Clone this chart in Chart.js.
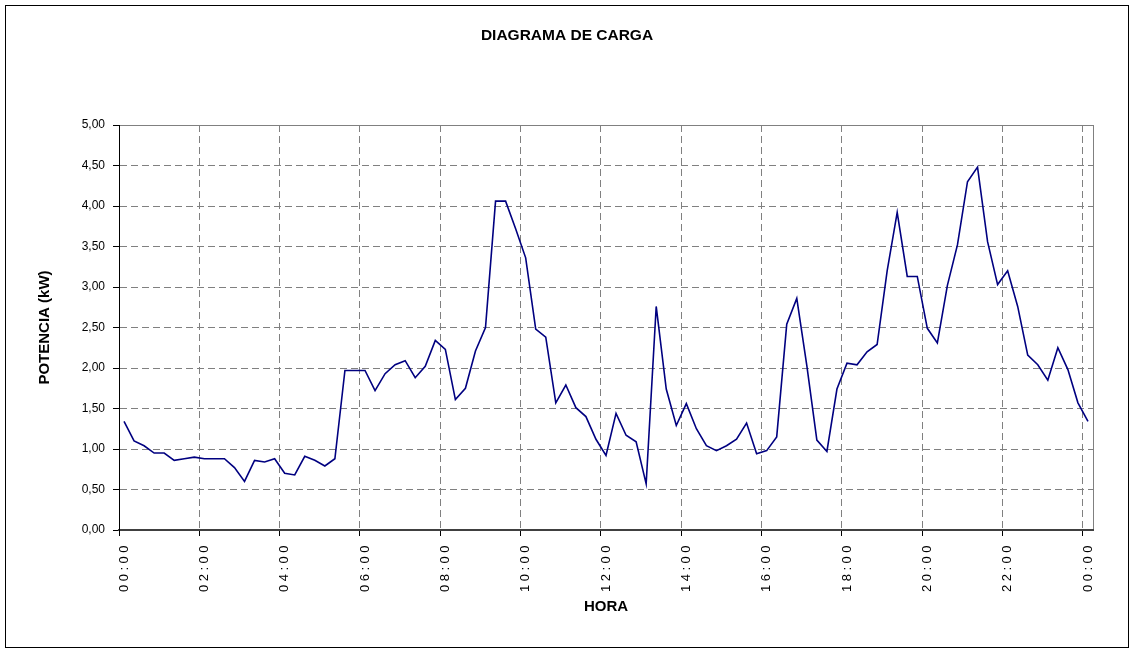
<!DOCTYPE html>
<html><head><meta charset="utf-8">
<script src="https://cdn.jsdelivr.net/npm/chart.js@4.4.0/dist/chart.umd.min.js"></script>
<style>
html,body{margin:0;padding:0;background:#fff;overflow:hidden;}
#wrap{position:relative;width:1134px;height:652px;}
#frame{position:absolute;left:5px;top:5px;width:1124px;height:643px;border:1px solid #000;box-sizing:border-box;pointer-events:none;}
canvas{display:block}
</style></head><body>
<div id="wrap"><canvas id="c" width="1134" height="652"></canvas><div id="frame"></div></div>
<script>
const tickLabels = ["00:00","02:00","04:00","06:00","08:00","10:00","12:00","14:00","16:00","18:00","20:00","22:00","00:00"];
const potencia = [1.34,1.10,1.04,0.95,0.95,0.86,0.88,0.90,0.88,0.88,
  0.88,0.77,0.60,0.86,0.84,0.88,0.70,0.68,0.91,0.86,
  0.79,0.88,1.97,1.97,1.97,1.72,1.93,2.04,2.09,1.88,
  2.02,2.34,2.23,1.61,1.75,2.21,2.50,4.06,4.06,3.72,
  3.36,2.48,2.38,1.57,1.79,1.51,1.40,1.12,0.92,1.44,
  1.17,1.09,0.57,2.76,1.74,1.29,1.56,1.25,1.04,0.98,
  1.04,1.12,1.32,0.94,0.98,1.15,2.54,2.86,2.03,1.11,
  0.97,1.74,2.06,2.04,2.20,2.29,3.20,3.92,3.13,3.13,
  2.49,2.31,3.02,3.52,4.30,4.48,3.56,3.03,3.20,2.76,
  2.16,2.04,1.85,2.25,1.98,1.57,1.34];
const categories = [];
for (let i = 0; i < potencia.length; i++) {
  const m = (i * 15) % 1440;
  categories.push(String(Math.floor(m / 60)).padStart(2, '0') + ':' + String(m % 60).padStart(2, '0'));
}
const FONT = "'Liberation Sans', Arial, sans-serif";
const GRID = '#808080';
const DASH = [7, 4];

const plotBorder = {
  id: 'plotBorder',
  beforeDraw(chart) {
    const {ctx, chartArea: a} = chart;
    ctx.save();
    ctx.strokeStyle = GRID;
    ctx.lineWidth = 1;
    ctx.strokeRect(Math.round(a.left) + 0.5, Math.round(a.top) + 0.5, Math.round(a.width), Math.round(a.height));
    ctx.restore();
  }
};

const chart = new Chart(document.getElementById('c'), {
  type: 'line',
  data: {
    labels: categories,
    datasets: [{
      label: 'Potencia',
      data: potencia,
      borderColor: '#000080',
      borderWidth: 1.6,
      pointRadius: 0,
      tension: 0,
      fill: false
    }]
  },
  plugins: [plotBorder],
  options: {
    responsive: false,
    animation: false,
    devicePixelRatio: 1,
    layout: {padding: {left: 0, right: 0, top: 0, bottom: 0}},
    plugins: {
      legend: {display: false},
      tooltip: {enabled: false},
      title: {
        display: true,
        text: 'DIAGRAMA DE CARGA',
        color: '#000',
        font: {family: FONT, size: 15.5, weight: 'bold', lineHeight: 1.2},
        padding: {top: 26, bottom: 80.4}
      }
    },
    scales: {
      x: {
        type: 'category',
        offset: true,
        afterFit(s) { s.height = 122; },
        grid: {
          offset: true,
          drawOnChartArea: true,
          color: (ctx) => (ctx.index !== undefined && ctx.index % 8 === 0) ? GRID : 'rgba(0,0,0,0)',
          tickColor: (ctx) => (ctx.index !== undefined && ctx.index % 8 === 0) ? '#000' : 'rgba(0,0,0,0)',
          tickLength: 6,
          lineWidth: 1
        },
        border: {display: true, color: '#404040', width: 2, dash: DASH},
        ticks: {
          autoSkip: false,
          minRotation: 90,
          maxRotation: 90,
          padding: 6,
          color: '#000',
          font: {family: FONT, size: 13},
          callback: (v, i) => (i % 8 === 0) ? tickLabels[i / 8] : ''
        },
        title: {
          display: true,
          text: 'HORA',
          color: '#000',
          font: {family: FONT, size: 15, weight: 'bold', lineHeight: 1.2},
          padding: {top: 0, bottom: 36}
        }
      },
      y: {
        min: 0,
        max: 5,
        afterFit(s) { s.width = 119; },
        grid: {color: GRID, tickColor: '#000', tickLength: 6, lineWidth: 1},
        border: {display: true, color: '#000', width: 1, dash: DASH},
        ticks: {
          stepSize: 0.5,
          padding: 8,
          color: '#000',
          font: {family: FONT, size: 12},
          callback: (v) => Number(v).toFixed(2).replace('.', ',')
        },
        title: {
          display: true,
          text: 'POTENCIA (kW)',
          color: '#000',
          font: {family: FONT, size: 15, weight: 'bold', lineHeight: 1.2},
          padding: {top: 36, bottom: 0}
        }
      },
      yRight: {
        position: 'right',
        display: true,
        afterFit(s) { s.width = 41; },
        grid: {display: false, drawOnChartArea: false},
        border: {display: false},
        ticks: {display: false}
      }
    }
  }
});
const xs = chart.scales.x;
const origDrawLabels = xs.drawLabels.bind(xs);
xs.drawLabels = function(area) {
  const ctx = this.ctx;
  ctx.save();
  ctx.letterSpacing = '3.5px';
  origDrawLabels(area);
  ctx.restore();
};
chart.draw();
</script>
</body></html>
